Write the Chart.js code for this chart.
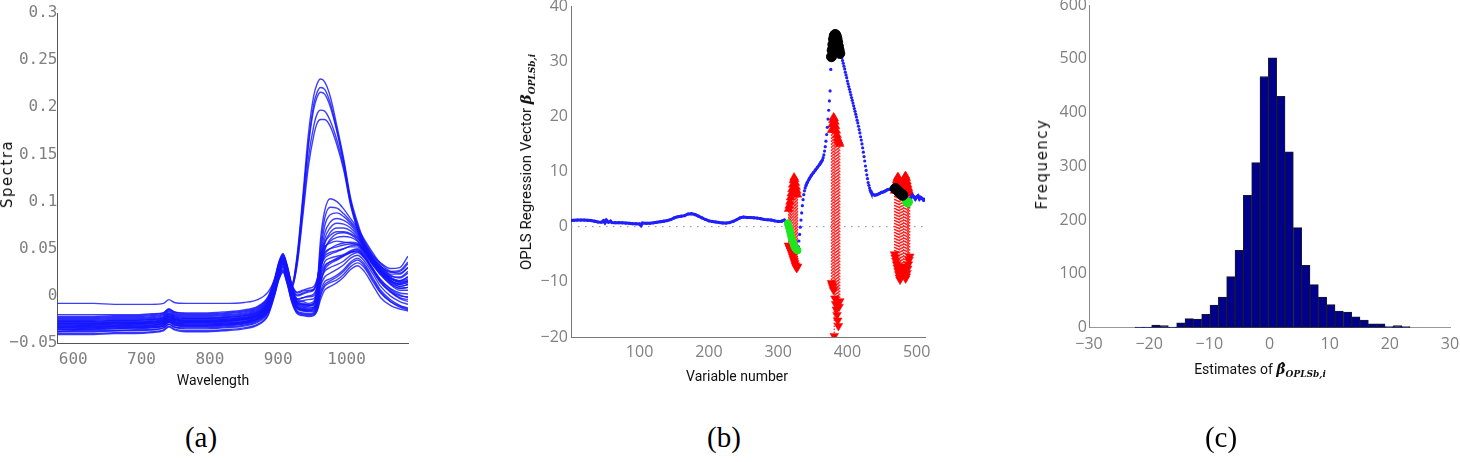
<!DOCTYPE html>
<html>
<head>
<meta charset="utf-8">
<title>OPLS figure</title>
<script src="https://cdn.jsdelivr.net/npm/chart.js@4.4.0/dist/chart.umd.min.js"></script>
<style>
  body { margin: 0; background: #fff; }
  #fig { position: relative; width: 1460px; height: 462px; overflow: hidden; background: #fff; }
  canvas { position: absolute; top: 0; }
  .lbl { position: absolute; white-space: nowrap; transform: translate(-50%, -50%); color: #111; font-family: Roboto, sans-serif; font-size: 14px; }
  .rot { transform: translate(-50%, -50%) rotate(-90deg); }
  .spaced { font-family: 'DejaVu Sans', sans-serif; font-size: 15px; letter-spacing: 1.5px; }
  .beta { font-family: 'DejaVu Serif', serif; font-style: italic; font-weight: bold; }
  .beta sub { font-size: 9px; }
  .cap { position: absolute; transform: translate(-50%, -50%); font-family: 'Liberation Serif', serif; font-size: 29px; color: #000; }
</style>
</head>
<body>
<div id="fig">
  <canvas id="spectra" width="420" height="400" style="left:0px"></canvas>
  <canvas id="regression" width="470" height="400" style="left:480px"></canvas>
  <canvas id="histogram" width="470" height="400" style="left:990px"></canvas>

  <div class="lbl rot spaced" style="left:7px; top:174px">Spectra</div>
  <div class="lbl" style="left:213px; top:380px">Wavelength</div>
  <div class="lbl rot" style="left:527px; top:162px; font-size:15px">OPLS Regression Vector <span class="beta">β<sub>OPLSb,i</sub></span></div>
  <div class="lbl" style="left:737px; top:376px">Variable number</div>
  <div class="lbl rot spaced" style="left:1042px; top:164px">Frequency</div>
  <div class="lbl" style="left:1260px; top:370px">Estimates of <span class="beta">β&#770;<sub>OPLSb,i</sub></span></div>

  <div class="cap" style="left:201px; top:437px">(a)</div>
  <div class="cap" style="left:724px; top:437px">(b)</div>
  <div class="cap" style="left:1221px; top:437px">(c)</div>
</div>

<script>
// ---------- (a) spectra ----------
const waveLengths = [577, 600, 630, 660, 690, 715, 732, 740, 748, 765,
  790, 820, 850, 870, 885, 895, 901, 907, 913, 920,
  928, 936, 944, 952, 957, 962, 968, 976, 986, 996,
  1006, 1016, 1026, 1038, 1050, 1064, 1078, 1090];

const specHigh1 = [-0.030,-0.030,-0.030,-0.029,-0.029,-0.028,-0.026,-0.022,-0.025,-0.027,
  -0.027,-0.026,-0.024,-0.020,-0.010,0.012,0.030,0.040,0.028,0.012,
  0.045,0.105,0.170,0.212,0.225,0.230,0.227,0.212,0.180,0.145,
  0.104,0.078,0.057,0.043,0.035,0.029,0.030,0.042];
const specHigh2 = [-0.033,-0.033,-0.032,-0.032,-0.031,-0.031,-0.029,-0.025,-0.028,-0.029,
  -0.029,-0.028,-0.026,-0.022,-0.012,0.010,0.027,0.036,0.025,0.010,
  0.040,0.098,0.160,0.203,0.216,0.221,0.219,0.205,0.176,0.142,
  0.101,0.075,0.055,0.040,0.031,0.026,0.027,0.036];
const specHigh3 = [-0.028,-0.028,-0.028,-0.027,-0.027,-0.026,-0.024,-0.020,-0.023,-0.025,
  -0.025,-0.024,-0.022,-0.018,-0.008,0.013,0.031,0.041,0.029,0.013,
  0.042,0.100,0.158,0.198,0.211,0.216,0.214,0.201,0.174,0.140,
  0.100,0.074,0.054,0.040,0.031,0.025,0.026,0.034];
const specHigh4 = [-0.035,-0.035,-0.034,-0.034,-0.033,-0.033,-0.031,-0.027,-0.030,-0.031,
  -0.031,-0.030,-0.028,-0.024,-0.014,0.008,0.025,0.034,0.022,0.008,
  0.036,0.090,0.145,0.180,0.193,0.197,0.196,0.186,0.165,0.136,
  0.098,0.072,0.052,0.038,0.029,0.023,0.023,0.030];
const specHigh5 = [-0.031,-0.031,-0.031,-0.030,-0.030,-0.029,-0.027,-0.023,-0.026,-0.028,
  -0.028,-0.027,-0.025,-0.021,-0.011,0.011,0.028,0.038,0.026,0.010,
  0.034,0.084,0.136,0.170,0.183,0.187,0.187,0.180,0.160,0.133,
  0.096,0.070,0.050,0.036,0.027,0.021,0.020,0.026];

const specMid1 = [-0.025,-0.025,-0.025,-0.024,-0.024,-0.023,-0.021,-0.017,-0.020,-0.022,
  -0.022,-0.021,-0.019,-0.015,-0.005,0.015,0.032,0.042,0.030,0.010,
  -0.004,-0.006,-0.008,-0.006,0.010,0.060,0.090,0.103,0.100,0.092,
  0.082,0.072,0.060,0.046,0.034,0.026,0.024,0.030];
const specMid2 = [-0.032,-0.032,-0.031,-0.031,-0.030,-0.030,-0.028,-0.024,-0.027,-0.028,
  -0.028,-0.027,-0.025,-0.021,-0.011,0.010,0.027,0.036,0.024,0.004,
  -0.008,-0.010,-0.011,-0.009,0.006,0.052,0.082,0.094,0.093,0.087,
  0.079,0.070,0.058,0.044,0.032,0.022,0.019,0.024];
const specMid3 = [-0.029,-0.029,-0.029,-0.028,-0.028,-0.027,-0.025,-0.021,-0.024,-0.026,
  -0.026,-0.025,-0.023,-0.019,-0.009,0.012,0.029,0.038,0.026,0.006,
  -0.007,-0.009,-0.010,-0.008,0.004,0.045,0.074,0.086,0.088,0.084,
  0.077,0.068,0.056,0.042,0.030,0.020,0.016,0.020];
const specMid4 = [-0.036,-0.036,-0.035,-0.035,-0.034,-0.034,-0.032,-0.028,-0.031,-0.032,
  -0.032,-0.031,-0.029,-0.025,-0.015,0.007,0.024,0.033,0.021,0.001,
  -0.012,-0.014,-0.015,-0.013,-0.002,0.040,0.066,0.078,0.082,0.080,
  0.075,0.066,0.054,0.040,0.028,0.017,0.012,0.015];
const specMid5 = [-0.027,-0.027,-0.027,-0.026,-0.026,-0.025,-0.023,-0.019,-0.022,-0.024,
  -0.024,-0.023,-0.021,-0.017,-0.007,0.014,0.031,0.040,0.028,0.007,
  -0.006,-0.008,-0.009,-0.008,0.002,0.035,0.060,0.072,0.077,0.076,
  0.072,0.064,0.052,0.039,0.027,0.016,0.010,0.012];
const specMid6 = [-0.033,-0.033,-0.033,-0.032,-0.032,-0.031,-0.029,-0.025,-0.028,-0.030,
  -0.030,-0.029,-0.027,-0.023,-0.013,0.009,0.026,0.035,0.023,0.002,
  -0.011,-0.013,-0.014,-0.013,-0.004,0.030,0.055,0.067,0.072,0.072,
  0.069,0.062,0.050,0.037,0.025,0.014,0.008,0.009];
const specMid7 = [-0.030,-0.030,-0.030,-0.029,-0.029,-0.028,-0.026,-0.022,-0.025,-0.027,
  -0.027,-0.026,-0.024,-0.020,-0.010,0.011,0.028,0.037,0.025,0.004,
  -0.009,-0.011,-0.012,-0.012,-0.005,0.024,0.048,0.060,0.066,0.067,
  0.065,0.059,0.048,0.035,0.023,0.012,0.006,0.006];

const specLow1 = [-0.038,-0.038,-0.038,-0.037,-0.037,-0.036,-0.034,-0.030,-0.033,-0.035,
  -0.035,-0.034,-0.032,-0.028,-0.018,0.004,0.020,0.028,0.016,-0.004,
  -0.016,-0.018,-0.019,-0.018,-0.012,0.005,0.015,0.018,0.022,0.028,
  0.036,0.040,0.034,0.020,0.006,-0.004,-0.010,-0.013];
const specLow2 = [-0.024,-0.024,-0.024,-0.023,-0.023,-0.022,-0.020,-0.016,-0.019,-0.021,
  -0.021,-0.020,-0.018,-0.014,-0.004,0.016,0.033,0.043,0.031,0.010,
  0.000,0.002,0.004,0.006,0.015,0.040,0.052,0.056,0.058,0.057,
  0.056,0.054,0.046,0.034,0.024,0.016,0.012,0.014];
const specLow3 = [-0.034,-0.034,-0.034,-0.033,-0.033,-0.032,-0.030,-0.026,-0.029,-0.031,
  -0.031,-0.030,-0.028,-0.024,-0.014,0.006,0.022,0.031,0.019,-0.001,
  -0.013,-0.015,-0.016,-0.015,-0.006,0.022,0.036,0.040,0.042,0.044,
  0.048,0.050,0.043,0.030,0.017,0.007,0.001,-0.002];
const specLow4 = [-0.040,-0.040,-0.040,-0.039,-0.039,-0.038,-0.036,-0.032,-0.035,-0.037,
  -0.037,-0.036,-0.034,-0.030,-0.020,0.002,0.018,0.026,0.014,-0.006,
  -0.018,-0.020,-0.021,-0.020,-0.016,-0.004,0.006,0.010,0.014,0.020,
  0.028,0.032,0.026,0.012,-0.002,-0.010,-0.014,-0.016];
const specLow5 = [-0.027,-0.027,-0.027,-0.026,-0.026,-0.025,-0.023,-0.019,-0.022,-0.024,
  -0.024,-0.023,-0.021,-0.017,-0.007,0.013,0.030,0.039,0.027,0.006,
  -0.006,-0.005,-0.004,-0.003,0.006,0.030,0.042,0.046,0.048,0.050,
  0.053,0.054,0.047,0.034,0.022,0.013,0.008,0.009];
const specLow6 = [-0.031,-0.031,-0.031,-0.030,-0.030,-0.029,-0.027,-0.023,-0.026,-0.028,
  -0.028,-0.027,-0.025,-0.021,-0.011,0.009,0.026,0.035,0.023,0.002,
  -0.010,-0.012,-0.013,-0.012,-0.004,0.016,0.026,0.030,0.033,0.037,
  0.043,0.046,0.040,0.027,0.014,0.005,0.000,-0.001];
const specLow7 = [-0.036,-0.036,-0.036,-0.035,-0.035,-0.034,-0.032,-0.028,-0.031,-0.033,
  -0.033,-0.032,-0.030,-0.026,-0.016,0.005,0.021,0.030,0.018,-0.002,
  -0.014,-0.016,-0.017,-0.017,-0.010,0.010,0.020,0.024,0.028,0.033,
  0.040,0.043,0.037,0.024,0.010,0.000,-0.006,-0.009];
const specLow8 = [-0.022,-0.022,-0.022,-0.021,-0.021,-0.020,-0.018,-0.014,-0.017,-0.019,
  -0.019,-0.018,-0.016,-0.012,-0.002,0.018,0.035,0.044,0.032,0.012,
  0.004,0.006,0.008,0.010,0.018,0.036,0.046,0.050,0.052,0.054,
  0.055,0.055,0.048,0.036,0.026,0.018,0.015,0.018];
const specLow9 = [-0.029,-0.029,-0.029,-0.028,-0.028,-0.027,-0.025,-0.021,-0.024,-0.026,
  -0.026,-0.025,-0.023,-0.019,-0.009,0.011,0.028,0.037,0.025,0.004,
  -0.008,-0.009,-0.010,-0.010,-0.002,0.020,0.032,0.036,0.039,0.043,
  0.047,0.049,0.042,0.029,0.017,0.008,0.003,0.002];
const specLow10 = [-0.038,-0.037,-0.037,-0.037,-0.036,-0.036,-0.034,-0.030,-0.033,-0.034,
  -0.034,-0.033,-0.031,-0.027,-0.017,0.003,0.019,0.027,0.015,-0.005,
  -0.017,-0.019,-0.020,-0.019,-0.014,0.000,0.010,0.014,0.017,0.023,
  0.031,0.035,0.030,0.016,0.003,-0.006,-0.011,-0.014];
const specLow11 = [-0.033,-0.033,-0.033,-0.032,-0.032,-0.031,-0.029,-0.025,-0.028,-0.030,
  -0.030,-0.029,-0.027,-0.023,-0.013,0.008,0.024,0.033,0.021,0.000,
  -0.012,-0.014,-0.015,-0.014,-0.008,0.012,0.030,0.036,0.040,0.043,
  0.046,0.047,0.041,0.028,0.015,0.005,-0.002,-0.004];
const specLow12 = [-0.041,-0.041,-0.041,-0.040,-0.040,-0.039,-0.037,-0.033,-0.036,-0.038,
  -0.038,-0.037,-0.035,-0.031,-0.021,0.001,0.017,0.025,0.013,-0.007,
  -0.019,-0.021,-0.022,-0.021,-0.015,0.002,0.012,0.016,0.020,0.026,
  0.034,0.038,0.032,0.018,0.004,-0.006,-0.012,-0.015];
const specLow13 = [-0.026,-0.026,-0.026,-0.025,-0.025,-0.024,-0.022,-0.018,-0.021,-0.023,
  -0.023,-0.022,-0.020,-0.016,-0.006,0.014,0.031,0.040,0.028,0.008,
  -0.003,-0.002,-0.001,0.000,0.010,0.034,0.050,0.058,0.062,0.063,
  0.062,0.058,0.050,0.037,0.025,0.015,0.010,0.012];
const specLow14 = [-0.035,-0.035,-0.035,-0.034,-0.034,-0.033,-0.031,-0.027,-0.030,-0.032,
  -0.032,-0.031,-0.029,-0.025,-0.015,0.006,0.022,0.031,0.019,-0.001,
  -0.013,-0.015,-0.016,-0.016,-0.009,0.014,0.028,0.034,0.038,0.042,
  0.046,0.048,0.042,0.028,0.014,0.004,-0.003,-0.006];
const specLow15 = [-0.023,-0.023,-0.023,-0.022,-0.022,-0.021,-0.019,-0.015,-0.018,-0.020,
  -0.020,-0.019,-0.017,-0.013,-0.003,0.017,0.034,0.043,0.031,0.011,
  0.001,0.003,0.005,0.007,0.016,0.038,0.056,0.064,0.068,0.068,
  0.066,0.061,0.052,0.039,0.028,0.019,0.014,0.016];
const specTop = [-0.008,-0.008,-0.008,-0.009,-0.009,-0.009,-0.008,-0.004,-0.007,-0.008,
  -0.008,-0.008,-0.007,-0.004,0.004,0.018,0.032,0.038,0.026,0.006,
  -0.004,-0.002,0.000,0.002,0.010,0.030,0.044,0.050,0.054,0.056,
  0.057,0.056,0.048,0.036,0.026,0.019,0.016,0.020];
const specUpper = [-0.020,-0.020,-0.020,-0.020,-0.020,-0.019,-0.018,-0.014,-0.017,-0.018,
  -0.018,-0.017,-0.015,-0.011,-0.001,0.019,0.036,0.045,0.033,0.012,
  0.003,0.005,0.006,0.007,0.014,0.030,0.040,0.044,0.047,0.050,
  0.052,0.052,0.045,0.033,0.023,0.016,0.013,0.016];

const spectra = [specHigh1, specHigh2, specHigh3, specHigh4, specHigh5,
  specMid1, specMid2, specMid3, specMid4, specMid5, specMid6, specMid7,
  specLow1, specLow2, specLow3, specLow4, specLow5, specLow6, specLow7, specLow8,
  specLow9, specLow10, specLow11, specLow12, specLow13, specLow14, specLow15,
  specTop, specUpper];

const waveTicks = [600, 700, 800, 900, 1000];
const spectraTicks = [-0.05, 0, 0.05, 0.1, 0.15, 0.2, 0.25, 0.3];

// ---------- (b) OPLS regression vector ----------
const regVars = [1, 5, 10, 15, 20, 25, 30, 35, 40, 45, 48, 50, 52, 55, 58, 60, 65, 70, 75, 80,
  85, 90, 95, 100, 102, 104, 110, 115, 120, 125, 130, 135, 140, 145, 150, 155, 160, 165, 170, 175,
  180, 185, 190, 195, 200, 205, 210, 215, 220, 225, 230, 235, 240, 245, 250, 255, 260, 265, 270, 275,
  280, 285, 290, 295, 300, 305, 309, 312, 314, 316, 318, 320, 322, 324, 326, 328,
  329, 330, 331, 332, 333, 334, 335, 336, 337, 338, 339, 340, 342, 345, 348, 351, 354, 357, 360, 362,
  364, 365, 366, 367, 368, 369, 370, 371, 372, 373, 374, 375, 376,
  377, 378, 379, 380, 381, 382, 383, 384, 385, 386, 387, 388, 389, 390,
  391, 392, 393, 394, 395, 396, 397, 398, 399, 400, 401, 402, 403, 404, 405, 406, 407, 408, 409, 410,
  411, 412, 413, 414, 415, 416, 417, 418, 419, 420, 421, 422, 423, 424, 425, 426, 427, 428, 429, 430,
  431, 432, 433, 434, 435, 437, 440, 443, 446, 449, 452, 455, 458, 461, 464, 467,
  469, 470, 471, 472, 473, 474, 475, 476, 477, 478, 479, 480,
  481, 482, 483, 484, 485, 486, 487, 488, 489, 490, 492, 494, 496, 498, 500, 502, 504, 506, 508, 510, 512];
const regVals = [1.1, 1.15, 1.2, 1.2, 1.2, 1.15, 1.1, 1.0, 0.85, 0.8, 1.1, 0.7, 1.2, 0.8, 1.0, 0.75, 0.72, 0.72, 0.7, 0.65,
  0.6, 0.55, 0.52, 0.5, 0.2, 0.65, 0.6, 0.62, 0.7, 0.8, 0.9, 1.0, 1.1, 1.3, 1.6, 1.8, 1.9, 2.0, 2.3, 2.35,
  2.2, 1.9, 1.6, 1.3, 1.05, 0.95, 0.85, 0.75, 0.68, 0.65, 0.75, 0.95, 1.25, 1.6, 1.75, 1.65, 1.65, 1.6, 1.55, 1.45,
  1.3, 1.25, 1.2, 1.05, 0.95, 1.0, 1.2, 0.8, 0.4, -0.4, -1.3, -2.2, -3.0, -3.6, -4.0, -4.2,
  -3.6, -2.6, -1.4, -0.1, 1.2, 2.5, 3.8, 4.9, 5.8, 6.5, 7.0, 7.4, 8.0, 8.7, 9.3, 9.8, 10.3, 10.8, 11.3, 11.7,
  12.1, 12.5, 13.0, 13.7, 14.5, 15.5, 16.7, 18.0, 19.5, 21.1, 22.8, 24.6, 28.5,
  30.8, 32.0, 33.0, 34.0, 34.6, 34.8, 34.8, 34.5, 34.0, 33.4, 32.7, 32.0, 31.4, 31.2,
  31.0, 30.6, 30.1, 29.6, 29.1, 28.6, 28.0, 27.5, 27.0, 26.4, 25.9, 25.4, 24.9, 24.4, 23.9, 23.4, 22.9, 22.4, 21.9, 21.4,
  20.9, 20.4, 19.9, 19.3, 18.8, 18.2, 17.6, 17.0, 16.3, 15.7, 15.0, 14.3, 13.5, 12.7, 11.9, 11.0, 10.2, 9.4, 8.7, 8.0,
  7.5, 7.0, 6.6, 6.3, 6.1, 5.8, 5.7, 5.8, 6.0, 6.2, 6.3, 6.5, 6.7, 6.8, 6.8, 6.9,
  6.9, 6.8, 6.7, 6.6, 6.5, 6.3, 6.2, 6.1, 6.0, 5.9, 5.8, 5.7,
  5.6, 5.3, 5.0, 4.7, 4.5, 4.3, 4.2, 4.3, 4.5, 4.9, 5.3, 5.7, 5.4, 5.0, 5.4, 5.6, 5.0, 5.3, 5.1, 4.8, 5.0];

const blackVars = [377, 378, 379, 380, 381, 382, 383, 384, 385, 386, 387, 388, 389,
  469, 470, 471, 472, 473, 474, 475, 476, 477, 478, 479, 480];
const blackVals = [30.8, 32.0, 33.0, 34.0, 34.6, 34.8, 34.8, 34.5, 34.0, 33.4, 32.7, 32.0, 31.4,
  6.9, 6.8, 6.7, 6.6, 6.5, 6.3, 6.2, 6.1, 6.0, 5.9, 5.8, 5.7];

const greenVars = [314, 315, 316, 317, 318, 319, 320, 321, 322, 323, 324, 325, 326, 327, 328,
  481, 482, 483, 484, 485, 486, 487, 488, 489];
const greenVals = [0.6, 0.2, -0.3, -0.8, -1.3, -1.8, -2.3, -2.7, -3.1, -3.4, -3.7, -3.9, -4.1, -4.2, -4.3,
  5.6, 5.3, 5.0, 4.7, 4.5, 4.3, 4.2, 4.3, 4.5];

const ciVars = [315, 316, 317, 318, 319, 320, 321, 322, 323, 324, 325, 326, 327, 328,
  377, 378, 379, 380, 381, 382, 383, 384, 385, 386, 387, 388, 389,
  468, 469, 470, 471, 472, 473, 474, 475, 476, 477, 478, 479, 480, 481, 482, 483, 484, 485, 486, 487, 488, 489, 490];
const ciHigh = [3.2, 3.8, 4.5, 5.3, 6.0, 6.8, 7.6, 8.4, 8.9, 8.6, 7.9, 7.2, 6.5, 5.8,
  17.5, 18.5, 19.3, 19.8, 19.6, 19.0, 18.2, 17.4, 16.6, 16.0, 15.6, 15.3, 15.0,
  6.5, 7.2, 7.8, 8.4, 8.8, 9.0, 8.7, 8.2, 7.6, 7.0, 6.6, 6.8, 7.4, 8.0, 8.6, 9.0, 9.2, 8.8, 8.2, 7.6, 7.0, 6.5, 6.0];
const ciLow = [-3.4, -3.7, -4.0, -4.3, -4.6, -5.0, -5.4, -5.8, -6.2, -6.6, -7.0, -7.3, -7.5, -7.2,
  -10.2, -10.6, -11.0, -11.5, -19.8, -13.0, -14.0, -15.0, -16.0, -17.0, -18.0, -14.5, -13.5,
  -5.0, -5.6, -6.2, -6.8, -7.4, -8.0, -8.6, -9.2, -9.6, -9.0, -8.4, -7.8, -7.2, -7.6, -8.2, -8.8, -9.4, -9.0, -8.4, -7.6, -6.8, -6.0, -5.4];

const varTicks = [100, 200, 300, 400, 500];
const regTicks = [-20, -10, 0, 10, 20, 30, 40];

// ---------- (c) histogram of estimates ----------
const binCenters = [-21.66, -20.28, -18.89, -17.51, -16.12, -14.74, -13.35, -11.97, -10.58, -9.20, -7.81,
  -6.43, -5.04, -3.66, -2.27, -0.89, 0.50, 1.89, 3.27, 4.66, 6.04, 7.43,
  8.81, 10.20, 11.58, 12.97, 14.35, 15.74, 17.12, 18.51, 19.89, 21.28, 22.66];
const binCounts = [1, 1, 5, 4, 1, 9, 17, 16, 25, 42, 57,
  95, 144, 246, 307, 467, 502, 430, 327, 186, 116, 80,
  57, 43, 31, 29, 20, 14, 7, 7, 2, 4, 2];
const estTicks = [-30, -20, -10, 0, 10, 20, 30];
const freqTicks = [0, 100, 200, 300, 400, 500, 600];

// ---------- helpers ----------
function setTicks(values) {
  return function (scale) {
    scale.ticks = values.map(v => ({ value: v }));
  };
}

// pins the axis box so the plot area lands where the original has it
function fixBox(size) {
  return function (scale) {
    if (scale.isHorizontal()) scale.height = size; else scale.width = size;
    scale.paddingLeft = 0;
    scale.paddingRight = 0;
    scale.paddingTop = 0;
    scale.paddingBottom = 0;
  };
}

const plain = v => String(v).replace('-', '\u2212');
const noGrid = { display: false, drawTicks: false };
const grayFont = { family: "'Open Sans', sans-serif", size: 16 };
const monoFont = { family: "'DejaVu Sans Mono', monospace", size: 16 };

function baseOptions(padding) {
  return {
    responsive: false,
    animation: false,
    events: [],
    layout: { padding },
    plugins: { legend: { display: false }, tooltip: { enabled: false } }
  };
}

// ---------- chart (a) ----------
new Chart(document.getElementById('spectra'), {
  type: 'line',
  data: {
    datasets: spectra.map(s => ({
      data: waveLengths.map((w, i) => ({ x: w, y: s[i] })),
      borderColor: 'rgba(20, 20, 255, 0.82)',
      borderWidth: 1.4,
      pointRadius: 0,
      cubicInterpolationMode: 'monotone',
      fill: false
    }))
  },
  options: {
    ...baseOptions({ top: 13, right: 12, left: 0, bottom: 0 }),
    scales: {
      x: {
        type: 'linear', min: 577, max: 1090,
        grid: noGrid,
        border: { color: '#555' },
        afterBuildTicks: setTicks(waveTicks),
        afterFit: fixBox(57),
        ticks: { padding: 7, autoSkip: false, maxRotation: 0, font: monoFont, color: '#808080', callback: plain }
      },
      y: {
        type: 'linear', min: -0.05, max: 0.3,
        grid: noGrid,
        border: { color: '#555' },
        afterBuildTicks: setTicks(spectraTicks),
        afterFit: fixBox(57.5),
        ticks: { padding: 0, autoSkip: false, font: monoFont, color: '#808080', callback: plain }
      }
    }
  }
});

// ---------- chart (b) ----------
function steep(ctx) {
  const a = ctx.p0.parsed, b = ctx.p1.parsed;
  return Math.abs(b.y - a.y) / Math.max(1, b.x - a.x) > 0.35;
}

const ciLines = [];
ciVars.forEach((v, i) => {
  ciLines.push({ x: v, y: ciLow[i] }, { x: v, y: ciHigh[i] }, { x: v, y: null });
});

new Chart(document.getElementById('regression'), {
  type: 'scatter',
  data: {
    datasets: [
      {
        data: blackVars.map((v, i) => ({ x: v, y: blackVals[i] })),
        pointRadius: 5, backgroundColor: '#000', borderColor: '#000', order: 0
      },
      {
        data: greenVars.map((v, i) => ({ x: v, y: greenVals[i] })),
        pointRadius: 3.5, backgroundColor: '#1ee61e', borderColor: '#1ee61e', order: 1
      },
      {
        data: regVars.map((v, i) => ({ x: v, y: regVals[i] })),
        showLine: true, borderColor: '#1f1fff', borderWidth: 3,
        pointRadius: 1.6, backgroundColor: '#1f1fff', pointBorderWidth: 0,
        segment: { borderColor: ctx => steep(ctx) ? 'rgba(0,0,0,0)' : undefined },
        order: 2
      },
      {
        data: ciVars.map((v, i) => ({ x: v, y: ciHigh[i] })),
        pointStyle: 'triangle', pointRadius: 5, backgroundColor: '#ff0000', borderColor: '#ff0000',
        borderWidth: 0.5, order: 3
      },
      {
        data: ciVars.map((v, i) => ({ x: v, y: ciLow[i] })),
        pointStyle: 'triangle', rotation: 180, pointRadius: 5, backgroundColor: '#ff0000', borderColor: '#ff0000',
        borderWidth: 0.5, order: 3
      },
      {
        data: ciLines,
        showLine: true, spanGaps: false, pointRadius: 0,
        borderColor: '#ff2020', borderWidth: 1.2, borderDash: [1.5, 1.5], order: 4
      },
      {
        data: [{ x: 1, y: 0 }, { x: 512, y: 0 }],
        showLine: true, pointRadius: 0,
        borderColor: '#8a8a8a', borderWidth: 1, borderDash: [1.5, 5.5], order: 5
      }
    ]
  },
  options: {
    ...baseOptions({ top: 5, right: 25, left: 0, bottom: 0 }),
    scales: {
      x: {
        type: 'linear', min: 1, max: 512,
        grid: noGrid,
        border: { color: '#777' },
        afterBuildTicks: setTicks(varTicks),
        afterFit: fixBox(63),
        ticks: { padding: 6, autoSkip: false, maxRotation: 0, font: grayFont, color: '#808080' }
      },
      y: {
        type: 'linear', min: -20, max: 40,
        grid: noGrid,
        border: { color: '#777' },
        afterBuildTicks: setTicks(regTicks),
        afterFit: fixBox(91),
        ticks: { padding: 3, autoSkip: false, font: grayFont, color: '#808080', callback: plain }
      }
    }
  }
});

// ---------- chart (c) ----------
new Chart(document.getElementById('histogram'), {
  type: 'bar',
  data: {
    datasets: [{
      data: binCenters.map((c, i) => ({ x: c, y: binCounts[i] })),
      backgroundColor: '#00008c',
      borderColor: '#1a1a2a',
      borderWidth: 1,
      borderSkipped: false,
      barPercentage: 1,
      categoryPercentage: 1
    }]
  },
  options: {
    ...baseOptions({ top: 5, right: 10, left: 0, bottom: 0 }),
    scales: {
      x: {
        type: 'linear', min: -30, max: 30, offset: false,
        grid: noGrid,
        border: { color: '#999' },
        afterBuildTicks: setTicks(estTicks),
        afterFit: fixBox(72.3),
        ticks: { padding: 7, autoSkip: false, maxRotation: 0, font: grayFont, color: '#808080', callback: plain }
      },
      y: {
        type: 'linear', min: 0, max: 600,
        grid: noGrid,
        border: { color: '#888' },
        afterBuildTicks: setTicks(freqTicks),
        afterFit: fixBox(99),
        ticks: { padding: 2, autoSkip: false, font: grayFont, color: '#808080' }
      }
    }
  }
});
</script>
</body>
</html>
